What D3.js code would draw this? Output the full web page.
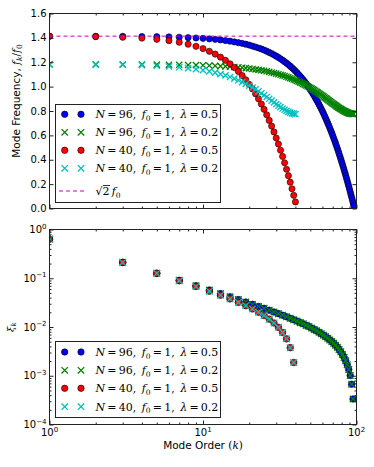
<!DOCTYPE html>
<html>
<head>
<meta charset="utf-8">
<script src="https://cdn.jsdelivr.net/npm/d3@7"></script>
<style>
  body { margin: 0; background: #fff; }
  svg { display: block; }
</style>
</head>
<body>
<div id="chart"></div>
<script>
// mode orders
var kN96 = d3.range(1, 97);
var kN40 = d3.range(1, 41);
var kOddN96 = d3.range(1, 96, 2);
var kOddN40 = d3.range(1, 40, 2);

// mode frequency f_k / f_0 (top panel)
var freqN96L05 = [1.414,1.413,1.413,1.411,1.410,1.408,1.405,1.402,1.399,1.396,
  1.392,1.388,1.383,1.378,1.373,1.367,1.361,1.355,1.348,1.341,
  1.333,1.325,1.317,1.309,1.300,1.291,1.281,1.271,1.261,1.250,
  1.240,1.228,1.217,1.205,1.193,1.181,1.168,1.155,1.141,1.128,
  1.114,1.099,1.085,1.070,1.055,1.040,1.024,1.008,0.992,0.975,
  0.959,0.942,0.925,0.907,0.889,0.872,0.853,0.835,0.816,0.798,
  0.779,0.759,0.740,0.720,0.700,0.681,0.660,0.640,0.620,0.599,
  0.578,0.557,0.536,0.515,0.493,0.472,0.450,0.428,0.406,0.384,
  0.362,0.340,0.318,0.295,0.273,0.250,0.228,0.205,0.183,0.160,
  0.137,0.114,0.092,0.069,0.046,0.023];
var freqN96L02 = [1.183,1.183,1.182,1.182,1.181,1.180,1.179,1.177,1.176,1.175,
  1.173,1.171,1.168,1.166,1.164,1.161,1.158,1.155,1.152,1.149,
  1.145,1.141,1.137,1.134,1.130,1.126,1.121,1.116,1.112,1.107,
  1.102,1.097,1.092,1.087,1.081,1.076,1.070,1.065,1.059,1.053,
  1.047,1.041,1.035,1.029,1.022,1.016,1.010,1.003,0.997,0.990,
  0.984,0.977,0.971,0.964,0.957,0.951,0.944,0.938,0.931,0.925,
  0.918,0.911,0.905,0.899,0.892,0.886,0.880,0.874,0.868,0.862,
  0.857,0.851,0.846,0.840,0.835,0.830,0.825,0.821,0.816,0.812,
  0.808,0.804,0.800,0.797,0.794,0.791,0.788,0.785,0.783,0.781,
  0.779,0.778,0.777,0.776,0.775,0.775];
var freqN40L05 = [1.413,1.410,1.405,1.398,1.388,1.377,1.364,1.348,1.331,1.312,
  1.290,1.267,1.242,1.216,1.187,1.157,1.125,1.091,1.056,1.019,
  0.981,0.941,0.900,0.857,0.814,0.769,0.723,0.676,0.628,0.578,
  0.529,0.478,0.427,0.375,0.322,0.269,0.216,0.162,0.108,0.054];
var freqN40L02 = [1.183,1.181,1.179,1.176,1.171,1.166,1.159,1.152,1.144,1.135,
  1.125,1.115,1.103,1.092,1.079,1.066,1.052,1.037,1.023,1.008,
  0.992,0.977,0.961,0.945,0.930,0.915,0.900,0.885,0.871,0.857,
  0.844,0.832,0.820,0.810,0.801,0.793,0.787,0.781,0.778,0.775];
var sqrt2Level = 1.4142;

// xi_k for odd modes (bottom panel), same for both lambda
var xiN96 = [0.637,0.212,0.127,0.0906,0.0702,0.0573,0.0483,0.0416,0.0365,0.0324,
  0.0291,0.0264,0.0241,0.0221,0.0203,0.0188,0.0174,0.0162,0.0151,0.0141,
  0.0132,0.0123,0.0116,0.0108,0.0102,0.00951,0.00891,0.00834,0.00780,0.00729,
  0.00680,0.00633,0.00588,0.00544,0.00502,0.00462,0.00422,0.00384,0.00346,0.00309,
  0.00273,0.00238,0.00203,0.00168,0.00134,0.00101,0.000669,0.000334];
var xiN40 = [0.636,0.211,0.126,0.0888,0.0679,0.0544,0.0449,0.0377,0.0320,0.0274,
  0.0235,0.0201,0.0172,0.0145,0.0121,0.00983,0.00772,0.00571,0.00377,0.00187];

// legend entries
var seriesN = ["96", "96", "40", "40"];
var seriesLambda = ["0.5", "0.2", "0.5", "0.2"];

// tick values
var yTopTicks = [0, 0.2, 0.4, 0.6, 0.8, 1.0, 1.2, 1.4, 1.6];
var xMajor = [1, 10, 100];
var xMinor = [2,3,4,5,6,7,8,9,20,30,40,50,60,70,80,90];
var yBotMajor = [1e-4, 1e-3, 1e-2, 1e-1, 1];
var yBotExp = ["\u22124", "\u22123", "\u22122", "\u22121", "0"];
var xExp = ["0", "1", "2"];

// styles
var colors = ["#0000ff", "#008000", "#ff0000", "#00bfbf"];
var shapes = ["o", "x", "o", "x"];
var serif = "'DejaVu Serif', serif";
var sans = "'DejaVu Sans', sans-serif";

var svg = d3.select("#chart").append("svg")
    .attr("width", 374)
    .attr("height", 467)
    .style("font-family", sans);

var plotW = 307, plotH = 195;
var left = 49.5;

var x = d3.scaleLog().domain([1, 100]).range([0, plotW]);
var yTop = d3.scaleLinear().domain([0, 1.6]).range([plotH, 0]);
var yBot = d3.scaleLog().domain([1e-4, 1]).range([plotH, 0]);

svg.append("defs").append("clipPath").attr("id", "clip")
    .append("rect").attr("width", plotW).attr("height", plotH);

var gTop = svg.append("g").attr("transform", `translate(${left},13.5)`);
var gBot = svg.append("g").attr("transform", `translate(${left},229.5)`);

// marker helper
function addMarkers(g, pts, shape, color, r) {
    if (shape === "o") {
        g.selectAll(null).data(pts).enter().append("circle")
            .attr("cx", d => d[0]).attr("cy", d => d[1]).attr("r", r)
            .attr("fill", color).attr("stroke", "#000").attr("stroke-width", 0.6);
    } else {
        g.selectAll(null).data(pts).enter().append("path")
            .attr("d", d => `M${d[0]-r},${d[1]-r}L${d[0]+r},${d[1]+r}M${d[0]-r},${d[1]+r}L${d[0]+r},${d[1]-r}`)
            .attr("stroke", color).attr("stroke-width", 1.3).attr("fill", "none");
    }
}

// ticks on all four sides, pointing in
function drawTicks(g, yScale, yMajor, yMinor) {
    var axes = [
        [d3.axisBottom(x), `translate(0,${plotH})`, xMajor, 4],
        [d3.axisBottom(x), `translate(0,${plotH})`, xMinor, 2],
        [d3.axisTop(x), null, xMajor, 4],
        [d3.axisTop(x), null, xMinor, 2],
        [d3.axisLeft(yScale), null, yMajor, 4],
        [d3.axisRight(yScale), `translate(${plotW},0)`, yMajor, 4]
    ];
    if (yMinor) {
        axes.push([d3.axisLeft(yScale), null, yMinor, 2]);
        axes.push([d3.axisRight(yScale), `translate(${plotW},0)`, yMinor, 2]);
    }
    axes.forEach(function(a) {
        var ag = g.append("g").call(a[0].tickValues(a[2]).tickSize(-a[3]).tickFormat(""));
        if (a[1]) ag.attr("transform", a[1]);
        ag.select(".domain").remove();
        ag.selectAll("line").attr("stroke", "#222");
    });
    g.append("rect").attr("width", plotW).attr("height", plotH)
        .attr("fill", "none").attr("stroke", "#222").attr("stroke-width", 1);
}

// ---------- top panel ----------
var topSeries = [
    [kN96, freqN96L05], [kN96, freqN96L02], [kN40, freqN40L05], [kN40, freqN40L02]
];
var topMarks = gTop.append("g").attr("clip-path", "url(#clip)");
topSeries.forEach(function(s, i) {
    var pts = s[0].map((k, j) => [x(k), yTop(s[1][j])]);
    addMarkers(topMarks.append("g"), pts, shapes[i], colors[i], 3.1);
});
topMarks.append("line")
    .attr("x1", 0).attr("x2", plotW)
    .attr("y1", yTop(sqrt2Level)).attr("y2", yTop(sqrt2Level))
    .attr("stroke", "#bf00bf").attr("stroke-width", 1).attr("stroke-dasharray", "4,3");

drawTicks(gTop, yTop, yTopTicks, null);

gTop.selectAll(".ylab").data(yTopTicks).enter().append("text")
    .attr("x", -3).attr("y", d => yTop(d)).attr("dy", "0.36em")
    .attr("text-anchor", "end").attr("font-size", 10)
    .text(d => d3.format(".1f")(d));

// y label top
var ylab = svg.append("text")
    .attr("transform", "translate(20,101) rotate(-90)")
    .attr("text-anchor", "middle").attr("font-size", 10.5);
ylab.append("tspan").text("Mode Frequency, ");
ylab.append("tspan").attr("font-family", serif).attr("font-style", "italic").text("f");
ylab.append("tspan").attr("font-family", serif).attr("font-style", "italic").attr("font-size", 7.5).attr("dy", 2).text("k");
ylab.append("tspan").attr("font-family", serif).attr("dy", -2).text("/");
ylab.append("tspan").attr("font-family", serif).attr("font-style", "italic").text("f");
ylab.append("tspan").attr("font-family", serif).attr("font-size", 7.5).attr("dy", 2).text("0");

// ---------- bottom panel ----------
var botSeries = [
    [kOddN96, xiN96], [kOddN96, xiN96], [kOddN40, xiN40], [kOddN40, xiN40]
];
var botMarks = gBot.append("g").attr("clip-path", "url(#clip)");
botSeries.forEach(function(s, i) {
    var pts = s[0].map((k, j) => [x(k), yBot(s[1][j])]);
    addMarkers(botMarks.append("g"), pts, shapes[i], colors[i], 3.3);
});

var yBotMinor = [];
[1e-4, 1e-3, 1e-2, 1e-1].forEach(function(dec) {
    [2,3,4,5,6,7,8,9].forEach(function(m) { yBotMinor.push(m * dec); });
});
drawTicks(gBot, yBot, yBotMajor, yBotMinor);

yBotMajor.forEach(function(v, i) {
    var t = gBot.append("text").attr("x", -3).attr("y", yBot(v) + 3.6)
        .attr("text-anchor", "end").attr("font-size", 10);
    t.append("tspan").text("10");
    t.append("tspan").attr("font-size", 7).attr("dy", -4.5).text(yBotExp[i]);
});
xMajor.forEach(function(v, i) {
    var t = gBot.append("text").attr("x", x(v)).attr("y", plotH + 11.5)
        .attr("text-anchor", "middle").attr("font-size", 10);
    t.append("tspan").text("10");
    t.append("tspan").attr("font-size", 7).attr("dy", -4.5).text(xExp[i]);
});

// x label
var xlab = svg.append("text").attr("x", left + plotW / 2).attr("y", 449)
    .attr("text-anchor", "middle").attr("font-size", 10.5);
xlab.append("tspan").text("Mode Order ");
xlab.append("tspan").attr("font-family", serif).text("(");
xlab.append("tspan").attr("font-family", serif).attr("font-style", "italic").text("k");
xlab.append("tspan").attr("font-family", serif).text(")");

// y label bottom
var ylab2 = svg.append("text")
    .attr("transform", "translate(14,327) rotate(-90)")
    .attr("text-anchor", "middle").attr("font-size", 10).attr("font-family", serif);
ylab2.append("tspan").attr("font-style", "italic").text("\u03be");
ylab2.append("tspan").attr("font-style", "italic").attr("font-size", 7).attr("dy", 2).text("k");

// ---------- legends ----------
function entryText(g, tx, ty, i) {
    var t = g.append("text").attr("x", tx).attr("y", ty)
        .attr("font-family", serif).attr("font-size", 11);
    t.append("tspan").attr("font-style", "italic").text("N");
    t.append("tspan").text("\u2009=\u2009" + seriesN[i] + ",\u2002");
    t.append("tspan").attr("font-style", "italic").text("f");
    t.append("tspan").attr("font-size", 7.5).attr("dy", 2.5).text("0");
    t.append("tspan").attr("dy", -2.5).text("\u2009=\u20091,\u2002");
    t.append("tspan").attr("font-style", "italic").text("\u03bb");
    t.append("tspan").text("\u2009=\u2009" + seriesLambda[i]);
}

function legend(box, rows, withLine) {
    var g = svg.append("g");
    g.append("rect").attr("x", box[0]).attr("y", box[1]).attr("width", box[2]).attr("height", box[3])
        .attr("fill", "#fff").attr("stroke", "#222").attr("stroke-width", 1);
    rows.slice(0, 4).forEach(function(ry, i) {
        addMarkers(g, [[64.7, ry], [81, ry]], shapes[i], colors[i], 3.2);
        entryText(g, 95.5, ry + 4, i);
    });
    if (withLine) {
        var ry = rows[4];
        g.append("line").attr("x1", 59).attr("x2", 87).attr("y1", ry).attr("y2", ry)
            .attr("stroke", "#bf00bf").attr("stroke-width", 1).attr("stroke-dasharray", "4,3");
        var t = g.append("text").attr("x", 95.5).attr("y", ry + 4)
            .attr("font-family", serif).attr("font-size", 11);
        t.append("tspan").text("\u221a2");
        t.append("tspan").attr("font-style", "italic").text("\u2009f");
        t.append("tspan").attr("font-size", 7.5).attr("dy", 2.5).text("0");
        g.append("line").attr("x1", 103).attr("x2", 110).attr("y1", ry - 5.5).attr("y2", ry - 5.5)
            .attr("stroke", "#000").attr("stroke-width", 0.8);
    }
}

legend([55.5, 104.5, 165, 98], [114.3, 132.3, 150.3, 168.3, 191], true);
legend([55.5, 341.5, 165, 76], [352, 370.3, 388.3, 406.7], false);
</script>
</body>
</html>
